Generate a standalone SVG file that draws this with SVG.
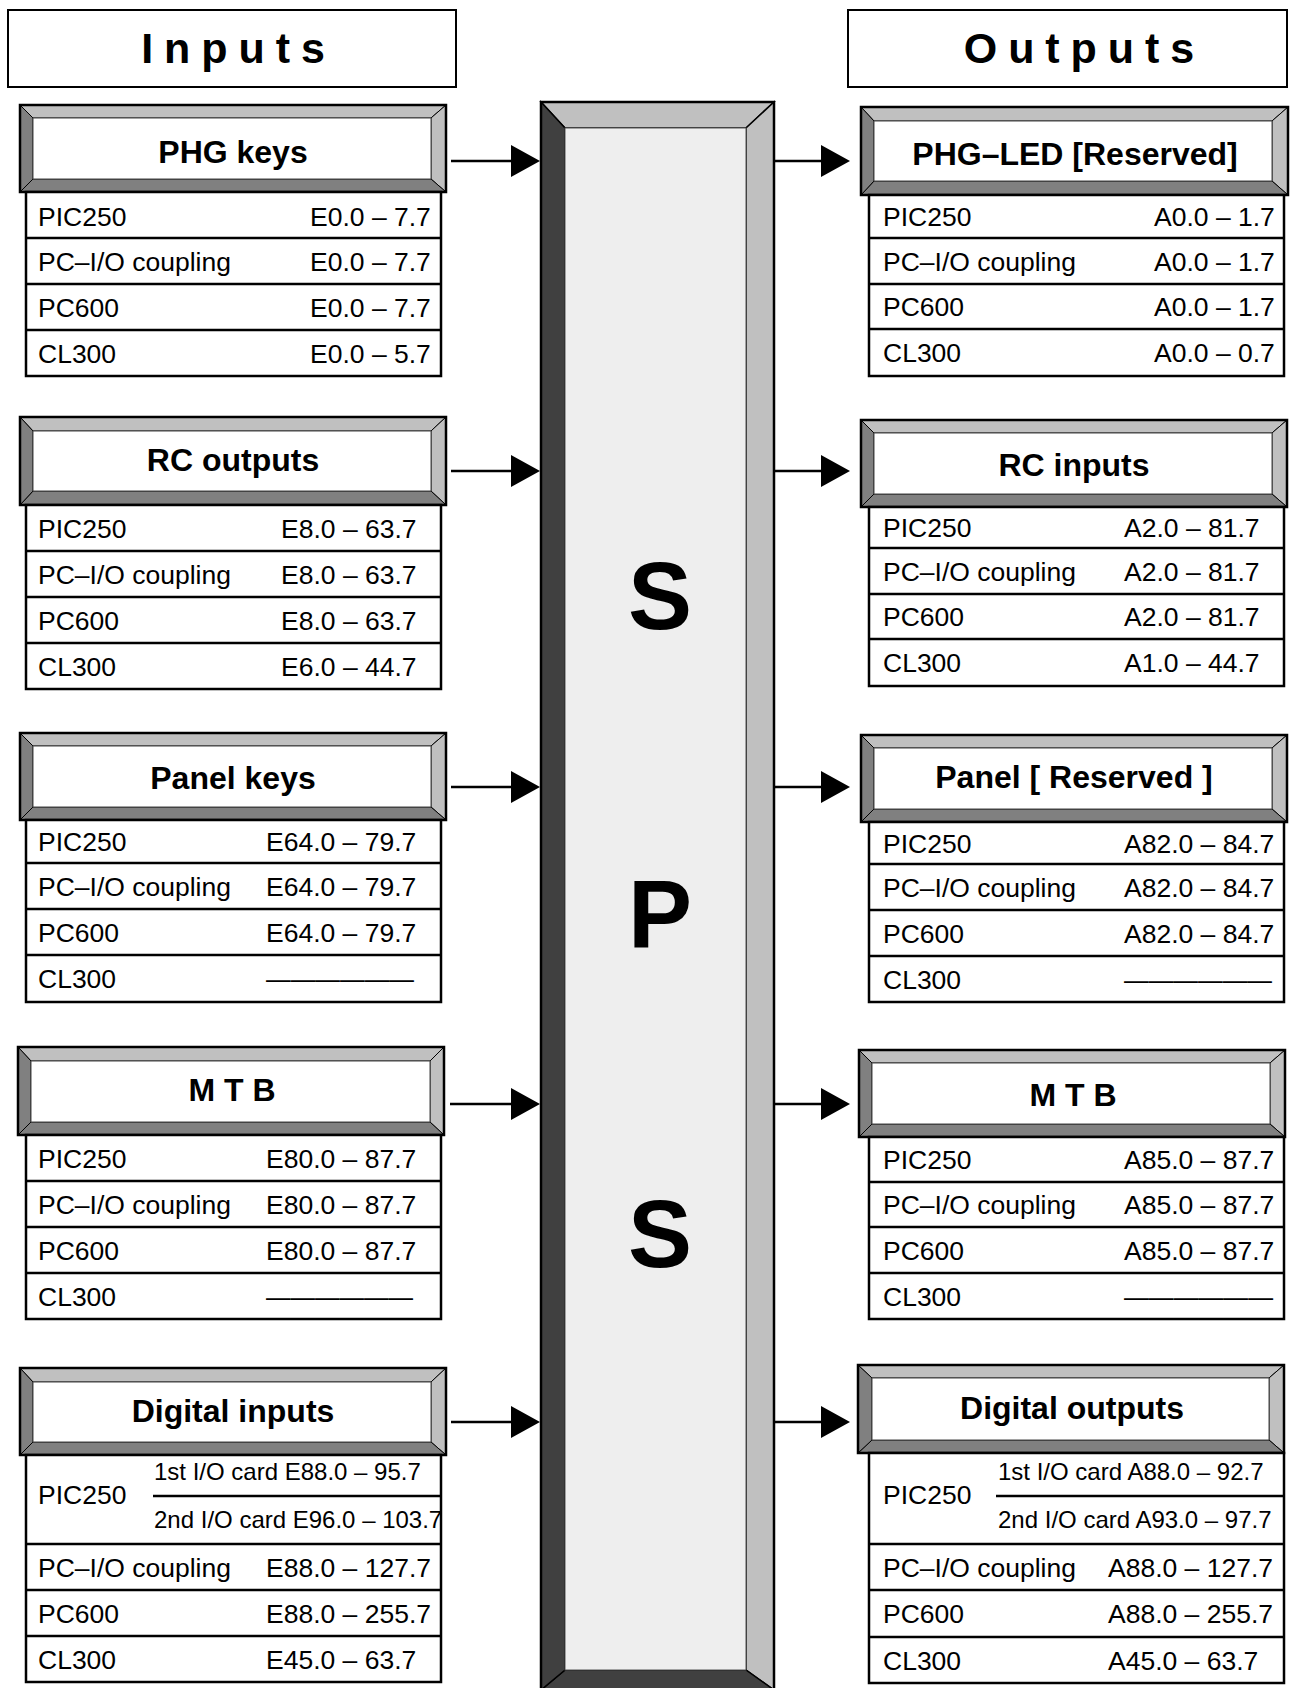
<svg xmlns="http://www.w3.org/2000/svg" width="1295" height="1688" viewBox="0 0 1295 1688">
<defs>
<style>
.bl{fill:#c0c0c0;stroke:#000;stroke-width:1}
.bd{fill:#808080;stroke:#000;stroke-width:1}
.in{fill:#fff;stroke:#444;stroke-width:1}
.ob{fill:none;stroke:#000;stroke-width:2.5}
.tb{fill:#fff;stroke:#000;stroke-width:2.5}
.rl{stroke:#000;stroke-width:2.5}
.h{font-family:"Liberation Sans",Arial,sans-serif;font-weight:bold;font-size:32px;text-anchor:middle;fill:#000}
.t{font-family:"Liberation Sans",Arial,sans-serif;font-size:26.5px;fill:#000}
.s{font-family:"Liberation Sans",Arial,sans-serif;font-size:24px;fill:#000}
.ti{font-family:"Liberation Sans",Arial,sans-serif;font-weight:bold;font-size:43px;text-anchor:middle;word-spacing:-1px;fill:#000}
.big{font-family:"Liberation Sans",Arial,sans-serif;font-weight:bold;font-size:96px;text-anchor:middle;fill:#000}
.ar{stroke:#000;stroke-width:2.5;fill:none}
</style>
<marker id="ah" markerUnits="userSpaceOnUse" viewBox="0 0 29 32" markerWidth="29" markerHeight="32" refX="0" refY="16" orient="auto">
<path d="M0,0 L29,16 L0,32 Z" fill="#000"/>
</marker>
</defs>
<rect width="1295" height="1688" fill="#fff"/>

<g id="inputs-title">
<rect class="ob" x="8" y="10" width="448" height="77" style="stroke-width:2"/>
<text class="ti" x="233" y="63">I n p u t s</text>
</g>
<g id="outputs-title">
<rect class="ob" x="848" y="10" width="439" height="77" style="stroke-width:2"/>
<text class="ti" x="1079" y="63">O u t p u t s</text>
</g>

<g id="sps">
<polygon points="541,102 774,102 746,128 565,128" fill="#c0c0c0" stroke="#000" stroke-width="1.5"/>
<polygon points="774,102 774,1690 746,1670 746,128" fill="#c0c0c0" stroke="#000" stroke-width="1.5"/>
<polygon points="541,1690 774,1690 746,1670 565,1670" fill="#404040" stroke="#000" stroke-width="1.5"/>
<polygon points="541,102 565,128 565,1670 541,1690" fill="#404040" stroke="#000" stroke-width="1.5"/>
<rect x="565" y="128" width="181" height="1542" fill="#eeeeee" stroke="#555" stroke-width="1"/>
<rect x="541" y="102" width="233" height="1588" fill="none" stroke="#000" stroke-width="2.5"/>
<text class="big" x="660" y="629">S</text>
<text class="big" x="660" y="947">P</text>
<text class="big" x="660" y="1267">S</text>
</g>

<g id="in-phg-keys">
<polygon class="bl" points="20,105 446,105 431,118 33,118"/>
<polygon class="bl" points="446,105 446,192 431,179 431,118"/>
<polygon class="bd" points="20,192 446,192 431,179 33,179"/>
<polygon class="bd" points="20,105 33,118 33,179 20,192"/>
<rect class="in" x="33" y="118" width="398" height="61"/>
<rect class="ob" x="20" y="105" width="426" height="87"/>
<text class="h" x="233" y="163">PHG keys</text>
<rect class="tb" x="26" y="192" width="415" height="184"/>
<line class="rl" x1="26" y1="238" x2="441" y2="238"/>
<line class="rl" x1="26" y1="284" x2="441" y2="284"/>
<line class="rl" x1="26" y1="330" x2="441" y2="330"/>
<text class="t" x="38" y="226">PIC250</text><text class="t" x="310" y="226">E0.0 – 7.7</text>
<text class="t" x="38" y="271">PC–I/O coupling</text><text class="t" x="310" y="271">E0.0 – 7.7</text>
<text class="t" x="38" y="317">PC600</text><text class="t" x="310" y="317">E0.0 – 7.7</text>
<text class="t" x="38" y="363">CL300</text><text class="t" x="310" y="363">E0.0 – 5.7</text>
</g>

<g id="in-rc-outputs">
<polygon class="bl" points="20,417 446,417 431,431 33,431"/>
<polygon class="bl" points="446,417 446,505 431,491 431,431"/>
<polygon class="bd" points="20,505 446,505 431,491 33,491"/>
<polygon class="bd" points="20,417 33,431 33,491 20,505"/>
<rect class="in" x="33" y="431" width="398" height="60"/>
<rect class="ob" x="20" y="417" width="426" height="88"/>
<text class="h" x="233" y="471">RC outputs</text>
<rect class="tb" x="26" y="505" width="415" height="184"/>
<line class="rl" x1="26" y1="551" x2="441" y2="551"/>
<line class="rl" x1="26" y1="597" x2="441" y2="597"/>
<line class="rl" x1="26" y1="643" x2="441" y2="643"/>
<text class="t" x="38" y="538">PIC250</text><text class="t" x="281" y="538">E8.0 – 63.7</text>
<text class="t" x="38" y="584">PC–I/O coupling</text><text class="t" x="281" y="584">E8.0 – 63.7</text>
<text class="t" x="38" y="630">PC600</text><text class="t" x="281" y="630">E8.0 – 63.7</text>
<text class="t" x="38" y="676">CL300</text><text class="t" x="281" y="676">E6.0 – 44.7</text>
</g>

<g id="in-panel-keys">
<polygon class="bl" points="20,733 446,733 431,746 33,746"/>
<polygon class="bl" points="446,733 446,820 431,807 431,746"/>
<polygon class="bd" points="20,820 446,820 431,807 33,807"/>
<polygon class="bd" points="20,733 33,746 33,807 20,820"/>
<rect class="in" x="33" y="746" width="398" height="61"/>
<rect class="ob" x="20" y="733" width="426" height="87"/>
<text class="h" x="233" y="789">Panel keys</text>
<rect class="tb" x="26" y="820" width="415" height="182"/>
<line class="rl" x1="26" y1="863" x2="441" y2="863"/>
<line class="rl" x1="26" y1="909" x2="441" y2="909"/>
<line class="rl" x1="26" y1="955" x2="441" y2="955"/>
<text class="t" x="38" y="851">PIC250</text><text class="t" x="266" y="851">E64.0 – 79.7</text>
<text class="t" x="38" y="896">PC–I/O coupling</text><text class="t" x="266" y="896">E64.0 – 79.7</text>
<text class="t" x="38" y="942">PC600</text><text class="t" x="266" y="942">E64.0 – 79.7</text>
<text class="t" x="38" y="988">CL300</text><text class="t" x="266" y="988" textLength="148" lengthAdjust="spacingAndGlyphs">——————</text>
</g>

<g id="in-mtb">
<polygon class="bl" points="18,1047 444,1047 430,1061 31,1061"/>
<polygon class="bl" points="444,1047 444,1135 430,1122 430,1061"/>
<polygon class="bd" points="18,1135 444,1135 430,1122 31,1122"/>
<polygon class="bd" points="18,1047 31,1061 31,1122 18,1135"/>
<rect class="in" x="31" y="1061" width="399" height="61"/>
<rect class="ob" x="18" y="1047" width="426" height="88"/>
<text class="h" x="232" y="1101">M T B</text>
<rect class="tb" x="26" y="1135" width="415" height="184"/>
<line class="rl" x1="26" y1="1181" x2="441" y2="1181"/>
<line class="rl" x1="26" y1="1227" x2="441" y2="1227"/>
<line class="rl" x1="26" y1="1273" x2="441" y2="1273"/>
<text class="t" x="38" y="1168">PIC250</text><text class="t" x="266" y="1168">E80.0 – 87.7</text>
<text class="t" x="38" y="1214">PC–I/O coupling</text><text class="t" x="266" y="1214">E80.0 – 87.7</text>
<text class="t" x="38" y="1260">PC600</text><text class="t" x="266" y="1260">E80.0 – 87.7</text>
<text class="t" x="38" y="1306">CL300</text><text class="t" x="266" y="1306" textLength="147" lengthAdjust="spacingAndGlyphs">——————</text>
</g>

<g id="in-digital-inputs">
<polygon class="bl" points="20,1368 446,1368 431,1382 33,1382"/>
<polygon class="bl" points="446,1368 446,1455 431,1442 431,1382"/>
<polygon class="bd" points="20,1455 446,1455 431,1442 33,1442"/>
<polygon class="bd" points="20,1368 33,1382 33,1442 20,1455"/>
<rect class="in" x="33" y="1382" width="398" height="60"/>
<rect class="ob" x="20" y="1368" width="426" height="87"/>
<text class="h" x="233" y="1422">Digital inputs</text>
<rect class="tb" x="26" y="1455" width="415" height="227"/>
<line class="rl" x1="26" y1="1544" x2="441" y2="1544"/>
<line class="rl" x1="26" y1="1590" x2="441" y2="1590"/>
<line class="rl" x1="26" y1="1636" x2="441" y2="1636"/>
<line class="rl" x1="153" y1="1496" x2="441" y2="1496"/>
<text class="t" x="38" y="1504">PIC250</text>
<text class="s" x="154" y="1480">1st I/O card E88.0 – 95.7</text>
<text class="s" x="154" y="1528">2nd I/O card E96.0 – 103.7</text>
<text class="t" x="38" y="1577">PC–I/O coupling</text><text class="t" x="266" y="1577">E88.0 – 127.7</text>
<text class="t" x="38" y="1623">PC600</text><text class="t" x="266" y="1623">E88.0 – 255.7</text>
<text class="t" x="38" y="1669">CL300</text><text class="t" x="266" y="1669">E45.0 – 63.7</text>
</g>

<g id="out-phg-led">
<polygon class="bl" points="861,107 1288,107 1272,121 874,121"/>
<polygon class="bl" points="1288,107 1288,195 1272,181 1272,121"/>
<polygon class="bd" points="861,195 1288,195 1272,181 874,181"/>
<polygon class="bd" points="861,107 874,121 874,181 861,195"/>
<rect class="in" x="874" y="121" width="398" height="60"/>
<rect class="ob" x="861" y="107" width="427" height="88"/>
<text class="h" x="1075" y="165">PHG–LED [Reserved]</text>
<rect class="tb" x="869" y="195" width="415" height="181"/>
<line class="rl" x1="869" y1="238" x2="1284" y2="238"/>
<line class="rl" x1="869" y1="284" x2="1284" y2="284"/>
<line class="rl" x1="869" y1="329" x2="1284" y2="329"/>
<text class="t" x="883" y="226">PIC250</text><text class="t" x="1154" y="226">A0.0 – 1.7</text>
<text class="t" x="883" y="271">PC–I/O coupling</text><text class="t" x="1154" y="271">A0.0 – 1.7</text>
<text class="t" x="883" y="316">PC600</text><text class="t" x="1154" y="316">A0.0 – 1.7</text>
<text class="t" x="883" y="362">CL300</text><text class="t" x="1154" y="362">A0.0 – 0.7</text>
</g>

<g id="out-rc-inputs">
<polygon class="bl" points="861,420 1287,420 1272,433 874,433"/>
<polygon class="bl" points="1287,420 1287,507 1272,494 1272,433"/>
<polygon class="bd" points="861,507 1287,507 1272,494 874,494"/>
<polygon class="bd" points="861,420 874,433 874,494 861,507"/>
<rect class="in" x="874" y="433" width="398" height="61"/>
<rect class="ob" x="861" y="420" width="426" height="87"/>
<text class="h" x="1074" y="476">RC inputs</text>
<rect class="tb" x="869" y="507" width="415" height="179"/>
<line class="rl" x1="869" y1="548" x2="1284" y2="548"/>
<line class="rl" x1="869" y1="594" x2="1284" y2="594"/>
<line class="rl" x1="869" y1="639" x2="1284" y2="639"/>
<text class="t" x="883" y="537">PIC250</text><text class="t" x="1124" y="537">A2.0 – 81.7</text>
<text class="t" x="883" y="581">PC–I/O coupling</text><text class="t" x="1124" y="581">A2.0 – 81.7</text>
<text class="t" x="883" y="626">PC600</text><text class="t" x="1124" y="626">A2.0 – 81.7</text>
<text class="t" x="883" y="672">CL300</text><text class="t" x="1124" y="672">A1.0 – 44.7</text>
</g>

<g id="out-panel">
<polygon class="bl" points="861,735 1287,735 1272,748 874,748"/>
<polygon class="bl" points="1287,735 1287,822 1272,809 1272,748"/>
<polygon class="bd" points="861,822 1287,822 1272,809 874,809"/>
<polygon class="bd" points="861,735 874,748 874,809 861,822"/>
<rect class="in" x="874" y="748" width="398" height="61"/>
<rect class="ob" x="861" y="735" width="426" height="87"/>
<text class="h" x="1074" y="788">Panel [ Reserved ]</text>
<rect class="tb" x="869" y="822" width="415" height="180"/>
<line class="rl" x1="869" y1="864" x2="1284" y2="864"/>
<line class="rl" x1="869" y1="910" x2="1284" y2="910"/>
<line class="rl" x1="869" y1="956" x2="1284" y2="956"/>
<text class="t" x="883" y="853">PIC250</text><text class="t" x="1124" y="853">A82.0 – 84.7</text>
<text class="t" x="883" y="897">PC–I/O coupling</text><text class="t" x="1124" y="897">A82.0 – 84.7</text>
<text class="t" x="883" y="943">PC600</text><text class="t" x="1124" y="943">A82.0 – 84.7</text>
<text class="t" x="883" y="989">CL300</text><text class="t" x="1124" y="989" textLength="148" lengthAdjust="spacingAndGlyphs">——————</text>
</g>

<g id="out-mtb">
<polygon class="bl" points="859,1050 1285,1050 1270,1063 872,1063"/>
<polygon class="bl" points="1285,1050 1285,1137 1270,1124 1270,1063"/>
<polygon class="bd" points="859,1137 1285,1137 1270,1124 872,1124"/>
<polygon class="bd" points="859,1050 872,1063 872,1124 859,1137"/>
<rect class="in" x="872" y="1063" width="398" height="61"/>
<rect class="ob" x="859" y="1050" width="426" height="87"/>
<text class="h" x="1073" y="1106">M T B</text>
<rect class="tb" x="869" y="1137" width="415" height="182"/>
<line class="rl" x1="869" y1="1182" x2="1284" y2="1182"/>
<line class="rl" x1="869" y1="1227" x2="1284" y2="1227"/>
<line class="rl" x1="869" y1="1273" x2="1284" y2="1273"/>
<text class="t" x="883" y="1169">PIC250</text><text class="t" x="1124" y="1169">A85.0 – 87.7</text>
<text class="t" x="883" y="1214">PC–I/O coupling</text><text class="t" x="1124" y="1214">A85.0 – 87.7</text>
<text class="t" x="883" y="1260">PC600</text><text class="t" x="1124" y="1260">A85.0 – 87.7</text>
<text class="t" x="883" y="1306">CL300</text><text class="t" x="1124" y="1306" textLength="149" lengthAdjust="spacingAndGlyphs">——————</text>
</g>

<g id="out-digital-outputs">
<polygon class="bl" points="858,1365 1284,1365 1269,1378 872,1378"/>
<polygon class="bl" points="1284,1365 1284,1453 1269,1440 1269,1378"/>
<polygon class="bd" points="858,1453 1284,1453 1269,1440 872,1440"/>
<polygon class="bd" points="858,1365 872,1378 872,1440 858,1453"/>
<rect class="in" x="872" y="1378" width="397" height="62"/>
<rect class="ob" x="858" y="1365" width="426" height="88"/>
<text class="h" x="1072" y="1419">Digital outputs</text>
<rect class="tb" x="869" y="1453" width="415" height="230"/>
<line class="rl" x1="869" y1="1544" x2="1284" y2="1544"/>
<line class="rl" x1="869" y1="1590" x2="1284" y2="1590"/>
<line class="rl" x1="869" y1="1637" x2="1284" y2="1637"/>
<line class="rl" x1="996" y1="1496" x2="1284" y2="1496"/>
<text class="t" x="883" y="1504">PIC250</text>
<text class="s" x="998" y="1480">1st I/O card A88.0 – 92.7</text>
<text class="s" x="998" y="1528">2nd I/O card A93.0 – 97.7</text>
<text class="t" x="883" y="1577">PC–I/O coupling</text><text class="t" x="1108" y="1577">A88.0 – 127.7</text>
<text class="t" x="883" y="1623">PC600</text><text class="t" x="1108" y="1623">A88.0 – 255.7</text>
<text class="t" x="883" y="1670">CL300</text><text class="t" x="1108" y="1670">A45.0 – 63.7</text>
</g>

<g id="connectors">
<line class="ar" x1="451" y1="161" x2="511" y2="161" marker-end="url(#ah)"/>
<line class="ar" x1="451" y1="471" x2="511" y2="471" marker-end="url(#ah)"/>
<line class="ar" x1="451" y1="787" x2="511" y2="787" marker-end="url(#ah)"/>
<line class="ar" x1="450" y1="1104" x2="511" y2="1104" marker-end="url(#ah)"/>
<line class="ar" x1="451" y1="1422" x2="511" y2="1422" marker-end="url(#ah)"/>
<line class="ar" x1="775" y1="161" x2="821" y2="161" marker-end="url(#ah)"/>
<line class="ar" x1="775" y1="471" x2="821" y2="471" marker-end="url(#ah)"/>
<line class="ar" x1="775" y1="787" x2="821" y2="787" marker-end="url(#ah)"/>
<line class="ar" x1="775" y1="1104" x2="821" y2="1104" marker-end="url(#ah)"/>
<line class="ar" x1="775" y1="1422" x2="821" y2="1422" marker-end="url(#ah)"/>
</g>
</svg>
